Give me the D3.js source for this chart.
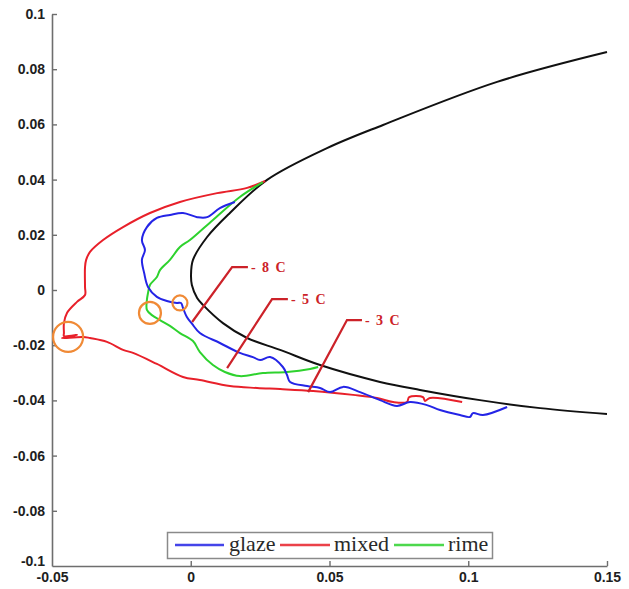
<!DOCTYPE html>
<html>
<head>
<meta charset="utf-8">
<script src="https://cdn.jsdelivr.net/npm/d3@7"></script>
<style>
  html, body { margin: 0; padding: 0; background: #fff; }
  svg { display: block; }
</style>
</head>
<body>
<svg id="chart" width="629" height="589"></svg>
<script>
// ---------- data ----------
const xTicks = [-0.05, 0, 0.05, 0.1, 0.15];
const xTickLabels = ["-0.05", "0", "0.05", "0.1", "0.15"];
const yTicks = [-0.1, -0.08, -0.06, -0.04, -0.02, 0, 0.02, 0.04, 0.06, 0.08, 0.1];
const yTickLabels = ["-0.1", "-0.08", "-0.06", "-0.04", "-0.02", "0", "0.02", "0.04", "0.06", "0.08", "0.1"];

const seriesNames = ["glaze", "mixed", "rime"];

// clean airfoil leading edge
const airfoil = [
  [0.150, 0.0862], [0.1104, 0.0754], [0.0693, 0.0598], [0.0491, 0.0514], [0.0275, 0.0399],
  [0.0141, 0.0279], [0.0059, 0.0192], [0.0008, 0.0109], [0.0001, 0.0054], [0.0004, 0.0018],
  [0.0023, -0.0029], [0.0044, -0.0054], [0.0116, -0.0120], [0.0203, -0.0174], [0.0322, -0.0217],
  [0.0466, -0.0272], [0.0682, -0.0333], [0.0826, -0.0362], [0.1042, -0.0399], [0.1259, -0.0428],
  [0.150, -0.0449]
];

const glaze = [
  [0.0159, 0.0319], [0.0105, 0.0297], [0.0059, 0.0264], [0.0023, 0.0264], [-0.0028, 0.0279],
  [-0.0075, 0.0272], [-0.0122, 0.0261], [-0.0158, 0.0228], [-0.0176, 0.0181], [-0.0165, 0.0145],
  [-0.0176, 0.0109], [-0.0168, 0.0062], [-0.0154, 0.0011], [-0.0122, -0.0025], [-0.0086, -0.0040],
  [-0.0050, -0.0047], [-0.0035, -0.0047], [-0.0028, -0.0065], [-0.0014, -0.0098], [0.0005, -0.0123],
  [0.0033, -0.0156], [0.0105, -0.0192], [0.0177, -0.0228], [0.0224, -0.0243], [0.0250, -0.0254],
  [0.0286, -0.0243], [0.0332, -0.0279], [0.0347, -0.0308], [0.0358, -0.0333], [0.0419, -0.0348],
  [0.0466, -0.0355], [0.0502, -0.0370], [0.0549, -0.0351], [0.0610, -0.0370], [0.0682, -0.0399],
  [0.0743, -0.0420], [0.0790, -0.0406], [0.0851, -0.0417], [0.0898, -0.0435], [0.0970, -0.0453],
  [0.1006, -0.0460], [0.1017, -0.0446], [0.1053, -0.0453], [0.1140, -0.0424]
];

const mixed = [
  [0.0268, 0.0395], [0.0203, 0.0370], [0.0095, 0.0351], [-0.0039, 0.0319], [-0.0147, 0.0279],
  [-0.0244, 0.0228], [-0.0316, 0.0181], [-0.0363, 0.0138], [-0.0377, 0.0109], [-0.0381, 0.0083],
  [-0.0381, 0.0011], [-0.0381, -0.0018], [-0.0410, -0.0043], [-0.0446, -0.0083], [-0.0457, -0.0120],
  [-0.0457, -0.0156], [-0.0457, -0.0167], [-0.0410, -0.0163], [-0.0464, -0.0174], [-0.0388, -0.0170],
  [-0.0363, -0.0174], [-0.0302, -0.0188], [-0.0244, -0.0217], [-0.0208, -0.0228], [-0.0122, -0.0268],
  [-0.0028, -0.0315], [0.0033, -0.0326], [0.0141, -0.0348], [0.0239, -0.0355], [0.0322, -0.0359],
  [0.0441, -0.0366], [0.0585, -0.0380], [0.0671, -0.0391], [0.0729, -0.0406], [0.0779, -0.0406],
  [0.0787, -0.0388], [0.0837, -0.0388], [0.0844, -0.0402], [0.0862, -0.0391], [0.0978, -0.0406]
];

const rime = [
  [0.0260, 0.0391], [0.0177, 0.0337], [0.0080, 0.0254], [-0.0003, 0.0181], [-0.0039, 0.0156],
  [-0.0075, 0.0109], [-0.0111, 0.0072], [-0.0122, 0.0047], [-0.0147, 0.0018], [-0.0154, -0.0011],
  [-0.0158, -0.0036], [-0.0158, -0.0072], [-0.0140, -0.0091], [-0.0111, -0.0109], [-0.0075, -0.0130],
  [-0.0039, -0.0156], [0.0008, -0.0185], [0.0033, -0.0225], [0.0080, -0.0272], [0.0123, -0.0297],
  [0.0177, -0.0312], [0.0260, -0.0301], [0.0347, -0.0297], [0.0430, -0.0286], [0.0459, -0.0279]
];

// temperature call-outs: leader line points (data coords) and label
const calloutLabels = ["- 8 C", "- 5 C", "- 3 C"];
const calloutLines = [
  [[0.0005, -0.0116], [0.0149, 0.0083], [0.0206, 0.0083]],
  [[0.0131, -0.0283], [0.0293, -0.0033], [0.0350, -0.0033]],
  [[0.0423, -0.0370], [0.0563, -0.0109], [0.0617, -0.0109]]
];

// orange circles marking ice horn tips (centre in data coords)
const circleCentres = [[-0.0442, -0.0170], [-0.0147, -0.0083], [-0.0039, -0.0047]];

// ---------- drawing ----------
const svg = d3.select("#chart");
const x = d3.scaleLinear().domain([-0.05, 0.15]).range([52, 607]);
const y = d3.scaleLinear().domain([-0.1, 0.1]).range([566, 14]);

const colors = { glaze: "#2424e6", mixed: "#e8202a", rime: "#2ed22e" };
const smooth = d3.line().x(d => x(d[0])).y(d => y(d[1])).curve(d3.curveCatmullRom.alpha(0.5));
const straight = d3.line().x(d => x(d[0])).y(d => y(d[1]));

// axes
const axisColor = "#6e6e6e";
const gx = svg.append("g").attr("transform", `translate(0,${y(-0.1)})`)
  .call(d3.axisBottom(x).tickValues(xTicks).tickFormat((d, i) => xTickLabels[i])
    .tickSize(-5).tickSizeOuter(0).tickPadding(6));
const gy = svg.append("g").attr("transform", `translate(${x(-0.05)},0)`)
  .call(d3.axisLeft(y).tickValues(yTicks).tickFormat((d, i) => yTickLabels[i])
    .tickSize(-5).tickSizeOuter(0).tickPadding(7));
[gx, gy].forEach(g => {
  g.select(".domain").attr("stroke", axisColor).attr("stroke-width", 1.6);
  g.selectAll(".tick line").attr("stroke", axisColor).attr("stroke-width", 1.4);
  g.selectAll(".tick text").attr("fill", "#1e1e1e")
    .style("font-family", "Arial, 'Liberation Sans', sans-serif")
    .style("font-size", "14px").style("font-weight", "bold");
});
gx.selectAll(".tick line").filter(d => d === -0.05).remove();
gy.selectAll(".tick line").filter(d => d === -0.1).remove();
gy.selectAll(".tick text").filter(d => d === -0.1).attr("y", -5);

// airfoil
svg.append("path").datum(airfoil).attr("d", smooth)
  .attr("fill", "none").attr("stroke", "#111").attr("stroke-width", 2);

// ice shapes
const seriesData = { glaze, mixed, rime };
["mixed", "rime", "glaze"].forEach(name => {
  svg.append("path").datum(seriesData[name]).attr("d", smooth)
    .attr("fill", "none").attr("stroke", colors[name]).attr("stroke-width", 2)
    .attr("stroke-linejoin", "round");
});

// circles
const radii = [15, 11, 7.5];
svg.selectAll("circle.mark").data(circleCentres).join("circle")
  .attr("cx", d => x(d[0])).attr("cy", d => y(d[1]))
  .attr("r", (d, i) => radii[i])
  .attr("fill", "none").attr("stroke", "#f08a36").attr("stroke-width", 2.2);

// call-outs
const calloutColor = "#cc2229";
calloutLines.forEach((pts, i) => {
  svg.append("path").datum(pts).attr("d", straight)
    .attr("fill", "none").attr("stroke", calloutColor).attr("stroke-width", 2.2);
  const end = pts[pts.length - 1];
  svg.append("text").attr("x", x(end[0]) + 3).attr("y", y(end[1]) + 5)
    .text(calloutLabels[i])
    .attr("fill", calloutColor)
    .style("font-family", "'Liberation Serif', 'Times New Roman', serif")
    .style("font-weight", "bold").style("font-size", "14px")
    .style("letter-spacing", "1.5px");
});

// legend
const lg = svg.append("g");
lg.append("rect").attr("x", 167.5).attr("y", 532.5).attr("width", 325).attr("height", 26)
  .attr("fill", "#fff").attr("stroke", "#8a8a8a").attr("stroke-width", 1.5);
const legendItems = [
  { name: "glaze", x1: 175, x2: 224, tx: 229 },
  { name: "mixed", x1: 280, x2: 330, tx: 334 },
  { name: "rime", x1: 394, x2: 444, tx: 448 }
];
legendItems.forEach(it => {
  lg.append("line").attr("x1", it.x1).attr("x2", it.x2).attr("y1", 545).attr("y2", 545)
    .attr("stroke", colors[it.name]).attr("stroke-width", 2.5).attr("opacity", 0.85);
  lg.append("text").attr("x", it.tx).attr("y", 551).text(it.name)
    .attr("fill", "#2a2a2a")
    .style("font-family", "'Liberation Serif', 'Times New Roman', serif")
    .style("font-size", "22px");
});
</script>
</body>
</html>
